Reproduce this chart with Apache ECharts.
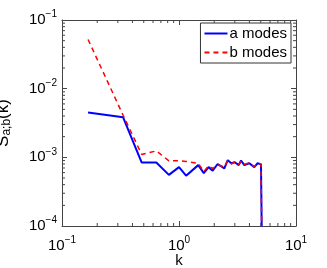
<!DOCTYPE html>
<html><head><meta charset="utf-8">
<script src="https://cdn.jsdelivr.net/npm/echarts@6/dist/echarts.min.js"></script>
<style>html,body{margin:0;padding:0;background:#fff}#c{width:327px;height:268px}</style>
</head><body><div id="c"></div>
<script>
const kValues = [0.167, 0.333, 0.48, 0.64, 0.82, 1.0, 1.15, 1.46, 1.63, 1.79, 1.94, 2.14, 2.44, 2.61, 2.8, 3.0, 3.24, 3.39, 3.62, 3.99, 4.4, 4.7, 5.02, 5.25];
const aModes = [4.48e-3, 3.83e-3, 8.4e-4, 8.4e-4, 5.55e-4, 7.2e-4, 5.4e-4, 7.7e-4, 5.9e-4, 7.2e-4, 6.4e-4, 8.0e-4, 6.9e-4, 9.1e-4, 8.2e-4, 8.5e-4, 7.7e-4, 9.0e-4, 7.7e-4, 8.2e-4, 7.2e-4, 8.2e-4, 7.9e-4, 1e-6];
const bModes = [5.2e-2, 4.1e-3, 1.1e-3, 1.24e-3, 8.9e-4, 8.9e-4, 8.7e-4, 8.2e-4, 6.2e-4, 7.5e-4, 6.9e-4, 7.75e-4, 7.2e-4, 8.95e-4, 8.0e-4, 8.6e-4, 7.9e-4, 8.8e-4, 7.9e-4, 8.3e-4, 7.3e-4, 8.2e-4, 8.0e-4, 1e-6];
const xMinorTicks = [0.2,0.3,0.4,0.5,0.6,0.7,0.8,0.9,2,3,4,5,6,7,8,9];
const yMinorTicks = [2e-4,3e-4,4e-4,5e-4,6e-4,7e-4,8e-4,9e-4,2e-3,3e-3,4e-3,5e-3,6e-3,7e-3,8e-3,9e-3,2e-2,3e-2,4e-2,5e-2,6e-2,7e-2,8e-2,9e-2];

const font = 'Liberation Sans, Arial, Helvetica, sans-serif';
const frame = '#444';
function powLabel(v){
  const e = Math.round(Math.log10(v));
  return '{b|10}{s|' + (e < 0 ? '\u2212' + (-e) : e) + '}';
}
const rich = {
  b: {fontSize: 15, fontFamily: font, color: '#000'},
  s: {fontSize: 10, fontFamily: font, color: '#000', padding: [0,0,11,0]}
};
const zip = (xs, ys) => xs.map((x,i)=>[x, ys[i]]);

const chart = echarts.init(document.getElementById('c'));
const axCommon = {
  type: 'log', logBase: 10,
  axisLine: {show: true, onZero: false, lineStyle: {color: frame, width: 1}},
  axisTick: {show: true, inside: true, length: 5, lineStyle: {color: frame}},
  splitLine: {show: false}
};
chart.setOption({
  animation: false,
  grid: {left: 62, top: 20, right: 31, bottom: 42, containLabel: false, outerBoundsMode: 'none'},
  legend: {
    right: 36, top: 23, orient: 'vertical',
    data: [
      {name: 'a modes', icon: 'path://M0,0h23v2h-23z'},
      {name: 'b modes', icon: 'path://M0,0h5v2h-5z M9,0h5v2h-5z M18,0h5v2h-5z'}
    ],
    backgroundColor: '#fff', borderColor: '#333', borderWidth: 1,
    padding: [3, 4, 3, 4], itemGap: 4, itemWidth: 23, itemHeight: 2,
    textStyle: {fontSize: 15, fontFamily: font, color: '#000', padding: [0,0,0,-3]}
  },
  xAxis: [
    Object.assign({}, axCommon, {
      position: 'bottom', min: 0.1, max: 10,
      axisLabel: {formatter: powLabel, rich: rich, margin: 9},
      name: 'k', nameLocation: 'middle', nameGap: 27, nameMoveOverlap: false,
      nameTextStyle: {fontSize: 15, fontFamily: font, color: '#000'}
    }),
    Object.assign({}, axCommon, {position: 'top', min: 0.1, max: 10, axisLabel: {show: false}})
  ],
  yAxis: [
    Object.assign({}, axCommon, {
      position: 'left', min: 1e-4, max: 1e-1,
      axisLabel: {formatter: powLabel, rich: rich, margin: 5},
      name: '{m|S}{u|a;b}{m|(k)}', nameLocation: 'middle', nameGap: 49, nameRotate: 90, nameMoveOverlap: false,
      nameTextStyle: {rich: {
        m: {fontSize: 17, fontFamily: font, color: '#000'},
        u: {fontSize: 12, fontFamily: font, color: '#000', padding: [7,0,0,0]}
      }}
    }),
    Object.assign({}, axCommon, {position: 'right', min: 1e-4, max: 1e-1, axisLabel: {show: false}})
  ],
  series: [
    {name: 'a modes', type: 'line', data: zip(kValues, aModes), showSymbol: false, symbol: 'none',
     lineStyle: {color: '#0000ff', width: 2}, itemStyle: {color: '#0000ff'}, clip: true, z: 3},
    {name: 'b modes', type: 'line', data: zip(kValues, bModes), showSymbol: false, symbol: 'none',
     lineStyle: {color: '#ff0000', width: 1.5, type: [5, 4]}, itemStyle: {color: '#ff0000'}, clip: true, z: 4},
    {type: 'custom', silent: true, clip: false, z: 5,
     data: xMinorTicks.map(v => [v, 1e-3]),
     renderItem: function(params, api){
       const cs = params.coordSys;
       const x = api.coord([api.value(0), 1e-3])[0];
       const st = {stroke: frame, lineWidth: 1};
       return {type: 'group', children: [
         {type: 'line', shape: {x1: x, y1: cs.y + cs.height, x2: x, y2: cs.y + cs.height - 3}, style: st},
         {type: 'line', shape: {x1: x, y1: cs.y, x2: x, y2: cs.y + 3}, style: st}
       ]};
     }},
    {type: 'custom', silent: true, clip: false, z: 5,
     data: yMinorTicks.map(v => [1, v]),
     renderItem: function(params, api){
       const cs = params.coordSys;
       const y = api.coord([1, api.value(1)])[1];
       const st = {stroke: frame, lineWidth: 1};
       return {type: 'group', children: [
         {type: 'line', shape: {x1: cs.x, y1: y, x2: cs.x + 3, y2: y}, style: st},
         {type: 'line', shape: {x1: cs.x + cs.width, y1: y, x2: cs.x + cs.width - 3, y2: y}, style: st}
       ]};
     }}
  ]
});
</script></body></html>
